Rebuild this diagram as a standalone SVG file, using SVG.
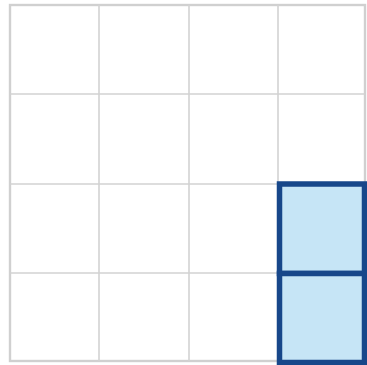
<svg xmlns="http://www.w3.org/2000/svg" width="367" height="365" viewBox="0 0 367 365">
<style>
.g{stroke:#d2d2d2;stroke-width:1.6;fill:none}
.b{stroke:#d0d0d0;stroke-width:2.4;fill:none}
.hl{fill:#c6e5f6;stroke:#17478a;stroke-width:5.5}
</style>
<rect width="367" height="365" fill="#ffffff"/>
<g id="grid">
<rect class="b" x="10" y="5" width="355" height="356"/>
<line class="g" x1="99" y1="5" x2="99" y2="361"/>
<line class="g" x1="189" y1="5" x2="189" y2="361"/>
<line class="g" x1="278" y1="5" x2="278" y2="361"/>
<line class="g" x1="10" y1="94" x2="365" y2="94"/>
<line class="g" x1="10" y1="184" x2="365" y2="184"/>
<line class="g" x1="10" y1="273" x2="365" y2="273"/>
</g>
<g id="cell-3-4">
<rect class="hl" x="279.5" y="184" width="85" height="89.5"/>
</g>
<g id="cell-4-4">
<rect class="hl" x="279.5" y="273.5" width="85" height="89"/>
</g>
</svg>
